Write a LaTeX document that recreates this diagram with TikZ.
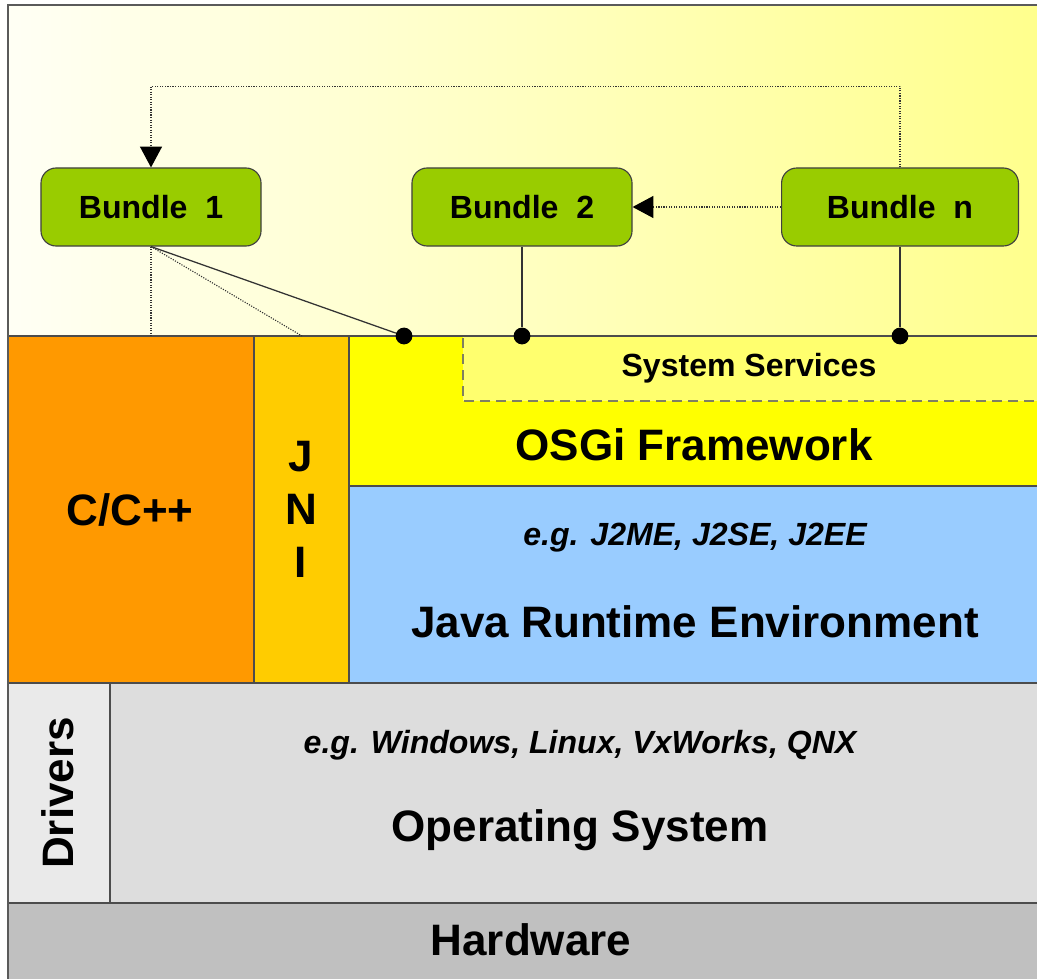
\documentclass[tikz,border=0pt]{standalone}
\usepackage{fontspec}
\setmainfont{Liberation Sans}
\usetikzlibrary{arrows.meta}
\definecolor{bundlegreen}{RGB}{153, 204,   0}
\definecolor{nativeorange}{RGB}{255, 153,   0}
\definecolor{jnigold}{RGB}{255, 204,   0}
\definecolor{osgiyellow}{RGB}{255, 255,   0}
\definecolor{serviceyellow}{RGB}{255, 255, 110}
\definecolor{jreblue}{RGB}{153, 204, 255}
\definecolor{drivergray}{RGB}{234, 234, 234}
\definecolor{osgray}{RGB}{221, 221, 221}
\definecolor{hwgray}{RGB}{192, 192, 192}
\definecolor{framegray}{RGB}{90, 90, 90}
\definecolor{dashgray}{RGB}{128, 128, 96}

\tikzset{
    bundle/.style={draw=black!75, fill=bundlegreen, line width=0.8pt, rounded corners=0.38cm,
                   minimum width=5.5cm, minimum height=1.95cm, font=\fontsize{22.8}{27}\selectfont\bfseries},
    layer/.style={draw=black!70, line width=1pt},
    smalltext/.style={font=\fontsize{22.8}{27}\selectfont\bfseries},
    bigtext/.style={font=\fontsize{31.3}{37.7}\selectfont\bfseries},
    dep/.style={densely dotted, line width=0.8pt, draw=black!80},
    wire/.style={line width=0.9pt, draw=black!80},
    port/.style={circle, fill=black, inner sep=0pt, minimum size=0.42cm},
    tip/.style={-{Triangle[length=0.52cm, width=0.55cm, color=black]}},
}

\begin{document}
\begin{tikzpicture}[x=0.025cm, y=-0.025cm]
    \useasboundingbox (0, 0) rectangle (1037, 978);
    % Bundle space
    \shade[left color=yellow!4, right color=yellow!45]                (   8,   5) rectangle (1045, 336);
    % Native side
    \filldraw[layer, fill=nativeorange]                               (   8, 336) rectangle ( 254, 683);
    \filldraw[layer, fill=jnigold]                                    ( 254, 336) rectangle ( 349, 683);
    % Java side
    \filldraw[layer, fill=osgiyellow]                                 ( 349, 336) rectangle (1045, 486);
    \fill[serviceyellow]                                              ( 463, 337) rectangle (1045, 401);
    \draw[dashgray, line width=1.4pt, dash pattern=on 0.25cm off 0.15cm] ( 463, 338) |- (1045, 401);
    \filldraw[layer, fill=jreblue]                                    ( 349, 486) rectangle (1045, 683);
    % Operating system & hardware
    \filldraw[layer, fill=drivergray]                                 (   8, 683) rectangle ( 110, 903);
    \filldraw[layer, fill=osgray]                                     ( 110, 683) rectangle (1045, 903);
    \filldraw[layer, fill=hwgray]                                     (   8, 903) rectangle (1045, 985);

    % Layer labels
    \node[smalltext] (services) at ( 749, 368) {System Services};
    \node[bigtext]   (osgi)     at ( 694, 445) {OSGi Framework};
    \node[smalltext] (jreeg)    at ( 695, 538) {\itshape e.g. J2ME, J2SE, J2EE};
    \node[bigtext]   (jre)      at ( 695, 622) {Java Runtime Environment};
    \node[bigtext]   (native)   at ( 130, 510) {C/C++};
    \node[bigtext, align=center] (jni) at ( 301, 509) {J\\N\\I};
    \node[bigtext, rotate=90]   (drivers) at (  58, 793) {Drivers};
    \node[smalltext] (oseg)     at ( 580, 745) {\itshape e.g. Windows, Linux, VxWorks, QNX};
    \node[bigtext]   (os)       at ( 580, 830) {Operating System};
    \node[bigtext]   (hw)       at ( 531, 940) {Hardware};

    % Bundles
    \node[bundle]                        (b1) at ( 151, 207) {Bundle\ \ 1};
    \node[bundle]                        (b2) at ( 522, 207) {Bundle\ \ 2};
    \node[bundle, minimum width=5.92cm]  (bn) at ( 900, 207) {Bundle\ \ n};

    % Service ports on the framework
    \coordinate (b1foot)  at ( 151, 336);
    \coordinate (jnifoot) at ( 302, 336);
    \node[port] (s1) at ( 404, 336) {};
    \node[port] (s2) at ( 522, 336) {};
    \node[port] (sn) at ( 900, 336) {};

    % Bundle wiring
    \draw[dep, tip] (bn.north) -- ++(0, -81) -| (b1.north);
    \draw[dep, tip] (bn) -- (b2);
    \draw[dep]      (b1.south) -- (b1foot);
    \draw[dep]      (b1.south) -- (jnifoot);
    \draw[wire]     (b1.south) -- (s1);
    \draw[wire]     (b2.south) -- (s2);
    \draw[wire]     (bn.south) -- (sn);

    % Frame
    \draw[framegray, line width=2pt]                                  (   8, 985) |- (1045,   5);
\end{tikzpicture}
\end{document}
